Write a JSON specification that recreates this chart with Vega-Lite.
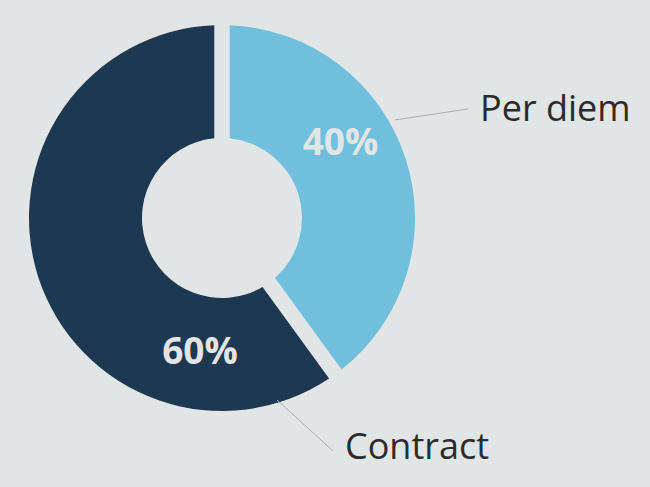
{
  "$schema": "https://vega.github.io/schema/vega-lite/v6.json",
  "width": 444,
  "height": 436,
  "autosize": "none",
  "padding": {"left": 0, "top": 0, "right": 206, "bottom": 51},
  "background": "#e1e5e6",
  "config": {"view": {"stroke": null}, "font": "Open Sans"},
  "data": {"values": [
    {"category": "Per diem", "share": 0.4},
    {"category": "Contract", "share": 0.6}
  ]},
  "encoding": {
    "theta": {"field": "share", "type": "quantitative", "stack": true},
    "order": {"field": "share", "type": "quantitative", "sort": "ascending"}
  },
  "layer": [
    {
      "mark": {"type": "arc", "innerRadius": 80, "outerRadius": 193, "padAngle": 0.074},
      "encoding": {
        "color": {"field": "category", "type": "nominal", "legend": null,
          "scale": {"domain": ["Per diem", "Contract"], "range": ["#6fbfdd", "#1f3852"]}}
      }
    },
    {
      "mark": {"type": "text", "radius": 134.2, "thetaOffset": -0.1745, "fontWeight": "bold", "fontSize": 37, "fill": "#e2e5e6", "align": "center", "baseline": "alphabetic"},
      "encoding": {
        "text": {"condition": {"test": "datum.category === 'Per diem'", "field": "share", "type": "quantitative", "format": ".0%"}, "value": ""}
      }
    },
    {
      "mark": {"type": "text", "radius": 147.6, "thetaOffset": -1.107, "fontWeight": "bold", "fontSize": 37, "fill": "#e2e5e6", "align": "center", "baseline": "alphabetic"},
      "encoding": {
        "text": {"condition": {"test": "datum.category === 'Contract'", "field": "share", "type": "quantitative", "format": ".0%"}, "value": ""}
      }
    },
    {
      "mark": {"type": "text", "radius": 275.6, "thetaOffset": -0.045, "fontSize": 36, "fill": "#2b2b2b", "align": "left", "baseline": "alphabetic"},
      "encoding": {
        "text": {"condition": {"test": "datum.category === 'Per diem'", "field": "category"}, "value": ""}
      }
    },
    {
      "mark": {"type": "text", "radius": 270.6, "thetaOffset": -1.7285, "fontSize": 36, "fill": "#2b2b2b", "align": "left", "baseline": "alphabetic"},
      "encoding": {
        "text": {"condition": {"test": "datum.category === 'Contract'", "field": "category"}, "value": ""}
      }
    },
    {
      "transform": [{"filter": "datum.category === 'Per diem'"}],
      "mark": {"type": "rule", "stroke": "#a9abac", "strokeWidth": 1},
      "encoding": {
        "theta": null,
        "order": null,
        "x": {"datum": 0.896, "type": "quantitative", "scale": {"domain": [-1.1503, 1.1503]}, "axis": null},
        "y": {"datum": 0.508, "type": "quantitative", "scale": {"domain": [-1.1295, 1.1295]}, "axis": null},
        "x2": {"datum": 1.275},
        "y2": {"datum": 0.565}
      }
    },
    {
      "transform": [{"filter": "datum.category === 'Contract'"}],
      "mark": {"type": "rule", "stroke": "#a9abac", "strokeWidth": 1},
      "encoding": {
        "theta": null,
        "order": null,
        "x": {"datum": 0.285, "type": "quantitative", "scale": {"domain": [-1.1503, 1.1503]}, "axis": null},
        "y": {"datum": -0.943, "type": "quantitative", "scale": {"domain": [-1.1295, 1.1295]}, "axis": null},
        "x2": {"datum": 0.575},
        "y2": {"datum": -1.207}
      }
    }
  ]
}
